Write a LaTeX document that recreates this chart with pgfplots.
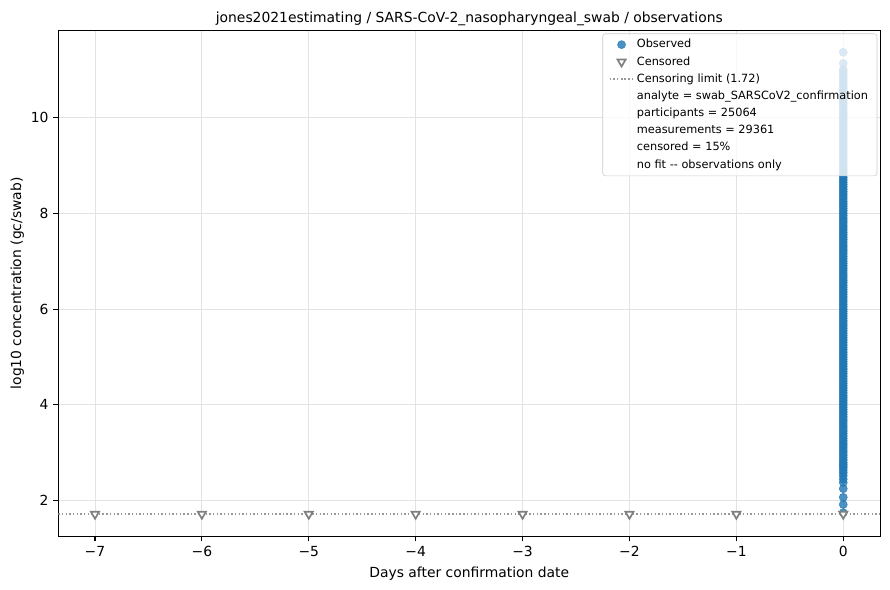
\documentclass[border=0pt]{standalone}
\usepackage{pgfplots}
\pgfplotsset{compat=1.18}
\usepackage{fontspec}
\setmainfont{DejaVu Sans}
\definecolor{mplblue}{HTML}{1F77B4}
\definecolor{gridc}{HTML}{E3E3E3}
\definecolor{limc}{HTML}{999999}
\definecolor{cens}{HTML}{7F7F7F}
\pgfplotstableread{
x y
0 1.75
0 1.92
0 2.07
0 2.25
0 2.38
0 2.45
0 2.52
0 2.58
0 2.63
0 2.68
0 2.72
0 2.76
0 2.80
0 2.85
0 2.90
0 2.95
0 3.00
0 3.05
0 3.10
0 3.15
0 3.20
0 3.25
0 3.30
0 3.35
0 3.40
0 3.45
0 3.50
0 3.55
0 3.60
0 3.65
0 3.70
0 3.75
0 3.80
0 3.85
0 3.90
0 3.95
0 4.00
0 4.05
0 4.10
0 4.15
0 4.20
0 4.25
0 4.30
0 4.35
0 4.40
0 4.45
0 4.50
0 4.55
0 4.60
0 4.65
0 4.70
0 4.75
0 4.80
0 4.85
0 4.90
0 4.95
0 5.00
0 5.05
0 5.10
0 5.15
0 5.20
0 5.25
0 5.30
0 5.35
0 5.40
0 5.45
0 5.50
0 5.55
0 5.60
0 5.65
0 5.70
0 5.75
0 5.80
0 5.85
0 5.90
0 5.95
0 6.00
0 6.05
0 6.10
0 6.15
0 6.20
0 6.25
0 6.30
0 6.35
0 6.40
0 6.45
0 6.50
0 6.55
0 6.60
0 6.65
0 6.70
0 6.75
0 6.80
0 6.85
0 6.90
0 6.95
0 7.00
0 7.05
0 7.10
0 7.15
0 7.20
0 7.25
0 7.30
0 7.35
0 7.40
0 7.45
0 7.50
0 7.55
0 7.60
0 7.65
0 7.70
0 7.75
0 7.80
0 7.85
0 7.90
0 7.95
0 8.00
0 8.05
0 8.10
0 8.15
0 8.20
0 8.25
0 8.30
0 8.35
0 8.40
0 8.45
0 8.50
0 8.55
0 8.60
0 8.65
0 8.70
0 8.75
0 8.80
0 8.85
0 8.90
0 8.95
0 9.00
0 9.05
0 9.10
0 9.15
0 9.20
0 9.25
0 9.30
0 9.35
0 9.40
0 9.45
0 9.50
0 9.55
0 9.60
0 9.65
0 9.70
0 9.75
0 9.80
0 9.85
0 9.90
0 9.95
0 10.00
0 10.05
0 10.10
0 10.15
0 10.20
0 10.25
0 10.30
0 10.35
0 10.40
0 10.45
0 10.50
0 10.55
0 10.60
0 10.65
0 10.70
0 10.75
0 10.80
0 10.85
0 10.90
0 10.95
0 11.00
0 11.13
0 11.36
}\observed
\pgfplotstableread{
x y
-7 1.72
-6 1.72
-5 1.72
-4 1.72
-3 1.72
-2 1.72
-1 1.72
0 1.72
}\censored
\begin{document}
\begin{tikzpicture}
\useasboundingbox (0,0) rectangle (640.8pt,424.8pt);
\begin{axis}[
  at={(41.98pt,38.59pt)}, anchor=south west,
  scale only axis, width=591.8pt, height=364.3pt,
  xmin=-7.343, xmax=0.346, ymin=1.254, ymax=11.817,
  xtick={-7,-6,-5,-4,-3,-2,-1,0},
  xticklabels={−7,−6,−5,−4,−3,−2,−1,0},
  ytick={2,4,6,8,10},
  /pgf/number format/assume math mode=true,
  tick label style={font=\fontsize{10}{12}\selectfont},
  tick align=outside, major tick length=3.5pt,
  major tick style={black, line width=0.8pt},
  xtick pos=bottom, ytick pos=left,
  axis line style={line width=0.8pt},
  xmajorgrids, ymajorgrids, major grid style={gridc, line width=0.6pt},
  title={jones2021estimating / SARS-CoV-2\_nasopharyngeal\_swab / observations},
  title style={font=\fontsize{10}{12}\selectfont, at={(axis description cs:0.5,1)}, anchor=base, yshift=-0.2pt},
  xlabel={Days after confirmation date},
  xlabel style={font=\fontsize{10}{12}\selectfont, at={(axis description cs:0.5,-0.0742)}, anchor=center},
  ylabel={log10 concentration (gc/swab)},
  ylabel style={font=\fontsize{10}{12}\selectfont, at={(axis description cs:-0.0499,0.5)}, anchor=center},
  legend style={at={(axis description cs:0.9964,0.994)}, anchor=north east,
    font=\fontsize{8.15}{9.8}\selectfont, draw=gray!40, rounded corners=2pt,
    fill=white, fill opacity=0.8, text opacity=1, draw opacity=1,
    row sep=0.7pt, inner xsep=4.5pt, inner ysep=2pt},
  legend cell align=left,
]
\addplot[limc, line width=1pt, dash pattern=on 1pt off 1.65pt, forget plot] coordinates {(-7.343,1.72) (0.346,1.72)};
\addplot[only marks, mark=*, mark size=2.9pt, mark options={draw=mplblue, fill=mplblue, draw opacity=0.8, fill opacity=0.8}] table[x=x,y=y] {\observed};
\addlegendentry{Observed}
\addplot[only marks, mark=triangle*, mark size=3.4pt, mark options={rotate=180, draw=cens, fill=white, line width=1.2pt}] table[x=x,y=y] {\censored};
\addlegendentry{Censored}
\addlegendimage{limc, line width=1pt, dash pattern=on 1pt off 1.65pt}
\addlegendentry{Censoring limit (1.72)}
\addlegendimage{legend image code/.code={}}
\addlegendentry{analyte = swab\_SARSCoV2\_confirmation}
\addlegendimage{legend image code/.code={}}
\addlegendentry{participants = 25064}
\addlegendimage{legend image code/.code={}}
\addlegendentry{measurements = 29361}
\addlegendimage{legend image code/.code={}}
\addlegendentry{censored = 15\%}
\addlegendimage{legend image code/.code={}}
\addlegendentry{no fit -{}- observations only}
\end{axis}
\end{tikzpicture}
\end{document}
